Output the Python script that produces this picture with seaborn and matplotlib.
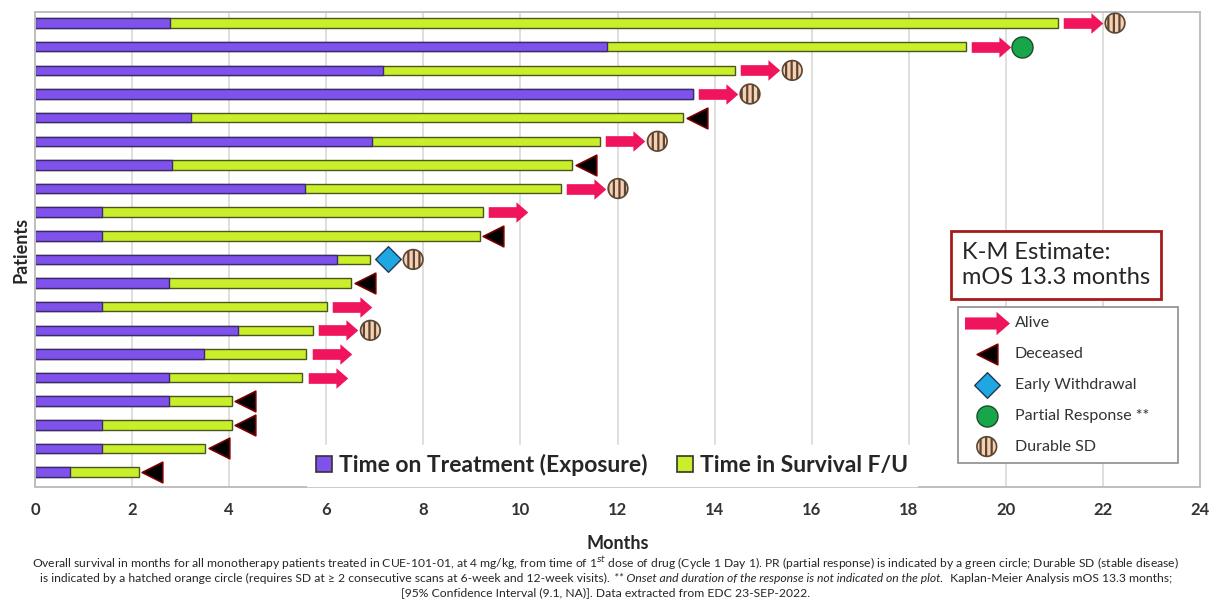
"""
Swimmer plot: overall survival for CUE-101-01 monotherapy patients.
"""

import numpy as np
import pandas as pd
import matplotlib
matplotlib.use("Agg")
import matplotlib.pyplot as plt
import seaborn as sns
from matplotlib.path import Path
from matplotlib.patches import Patch
from matplotlib.offsetbox import TextArea, HPacker, AnchoredOffsetbox

# Data (months)

patients = [f"P{i:02d}" for i in range(1, 21)]
exposure = [2.79, 11.78, 7.17, 13.55, 3.22, 6.94, 2.83, 5.56, 1.39, 1.39,
            6.23, 2.77, 1.39, 4.19, 3.48, 2.77, 2.77, 1.39, 1.39, 0.72]
total    = [21.07, 19.17, 14.42, 13.55, 13.35, 11.64, 11.07, 10.83, 9.23, 9.16,
            6.91, 6.51, 6.01, 5.73, 5.59, 5.51, 4.05, 4.05, 3.51, 2.14]
status   = ["Alive", "Alive", "Alive", "Alive", "Deceased", "Alive", "Deceased",
            "Alive", "Alive", "Deceased", "Withdrawal", "Deceased", "Alive",
            "Alive", "Alive", "Alive", "Deceased", "Deceased", "Deceased",
            "Deceased"]
response = ["SD", "PR", "SD", "SD", "", "SD", "", "SD", "", "",
            "SD", "", "", "SD", "", "", "", "", "", ""]
x_ticks  = list(range(0, 25, 2))

# Styling

PURPLE = "#8052EC"
GREEN  = "#C9EF2B"
PINK   = "#F0145C"
BLUE   = "#1EA7E1"
PR_GREEN = "#17A74A"
SD_FILL  = "#F7CFB2"
GRID   = "#D9D9D9"
FRAME  = "#BFBFBF"
TEXT   = "#262626"

sns.set_theme(style="white")
plt.rcParams["font.family"] = ["Lato", "DejaVu Sans"]
plt.rcParams["mathtext.fontset"] = "custom"
plt.rcParams["mathtext.rm"] = "Lato"
plt.rcParams["hatch.color"] = "#E5772B"
plt.rcParams["hatch.linewidth"] = 1.6

# block-arrow marker, centred on the origin
ARROW = Path([(-1, -0.27), (0.4, -0.27), (0.4, -0.52), (1, 0),
              (0.4, 0.52), (0.4, 0.27), (-1, 0.27), (-1, -0.27)],
             [Path.MOVETO] + [Path.LINETO] * 6 + [Path.CLOSEPOLY])

df = pd.DataFrame({"patient": patients, "exposure": exposure, "total": total,
                   "status": status, "response": response})
df["row"] = np.arange(len(df))

fig = plt.figure(figsize=(12.12, 6.01), dpi=100)
ax = fig.add_axes([35 / 1212, 1 - 487 / 601, 1165 / 1212, 475 / 601])

# stacked bars: survival follow-up underneath, exposure on top
sns.barplot(data=df, x="total", y="patient", orient="h", color=GREEN,
            saturation=1, width=0.4, edgecolor="#4A5520", linewidth=1, ax=ax)
sns.barplot(data=df, x="exposure", y="patient", orient="h", color=PURPLE,
            saturation=1, width=0.4, edgecolor="#3A2A70", linewidth=1, ax=ax)

# event markers, offset from the end of each bar
alive = df[df.status == "Alive"]
dead = df[df.status == "Deceased"]
wd = df[df.status == "Withdrawal"]
sd = df[df.response == "SD"]
pr = df[df.response == "PR"]
sd_off = np.where(sd.status == "Withdrawal", 0.88, 1.18)

ax.scatter(alive.total + 0.52, alive.row, marker=ARROW, s=810, color=PINK,
           linewidths=0, zorder=4)
ax.scatter(dead.total + 0.28, dead.row, marker="<", s=220, color="black",
           edgecolors="#7A0000", linewidths=1.2, zorder=4)
ax.scatter(wd.total + 0.36, wd.row, marker="D", s=170, color=BLUE,
           edgecolors="#1F3A55", linewidths=1, zorder=4)
ax.scatter(pr.total + 1.16, pr.row, marker="o", s=230, color=PR_GREEN,
           edgecolors="#1F4A2A", linewidths=1, zorder=4)
ax.scatter(sd.total + sd_off, sd.row, marker="o", s=200, facecolors=SD_FILL,
           edgecolors="#5A4632", linewidths=1.2, hatch="|||", zorder=4)

# axes
ax.set_xlim(0, 24)
ax.set_ylim(len(df) - 0.37, -0.47)
ax.set_xticks(x_ticks)
ax.set_yticks([])
ax.grid(axis="x", color=GRID, linewidth=1.2)
ax.set_axisbelow(True)
for sp in ax.spines.values():
    sp.set_color(FRAME)
    sp.set_linewidth(1.4)
ax.tick_params(axis="x", length=0, pad=11, labelsize=12, labelcolor="#333333")
for lbl in ax.get_xticklabels():
    lbl.set_fontweight("bold")
ax.set_xlabel("Months", fontsize=13, fontweight="bold", color=TEXT, labelpad=12)
ax.set_ylabel("Patients", fontsize=13, fontweight="bold", color=TEXT, labelpad=4)

# bottom legend (bar colours)
bar_handles = [Patch(facecolor=PURPLE, edgecolor="#333333", linewidth=1.2),
               Patch(facecolor=GREEN, edgecolor="#333333", linewidth=1.2)]
leg1 = ax.legend(bar_handles,
                 ["Time on Treatment (Exposure)", "Time in Survival F/U"],
                 loc="lower center", bbox_to_anchor=(612 / 1212, 1 - 497 / 601),
                 bbox_transform=fig.transFigure, ncol=2, frameon=True,
                 fancybox=False, framealpha=1, facecolor="white",
                 edgecolor="white", prop={"size": 16.5, "weight": "bold"},
                 handlelength=0.7, handleheight=0.7, handletextpad=0.3,
                 columnspacing=1.3, borderpad=0.4)
for t in leg1.get_texts():
    t.set_color(TEXT)
leg1.set_zorder(6)
ax.add_artist(leg1)

# event legend
ev_handles = [
    ax.scatter([], [], marker=ARROW, s=1050, color=PINK, linewidths=0),
    ax.scatter([], [], marker="<", s=220, color="black", edgecolors="#7A0000",
               linewidths=1.2),
    ax.scatter([], [], marker="D", s=170, color=BLUE, edgecolors="#1F3A55",
               linewidths=1),
    ax.scatter([], [], marker="o", s=230, color=PR_GREEN, edgecolors="#1F4A2A",
               linewidths=1),
    ax.scatter([], [], marker="o", s=200, facecolors=SD_FILL,
               edgecolors="#5A4632", linewidths=1.2, hatch="|||"),
]
leg_top = 1 - 307 / 601
leg2 = ax.legend(ev_handles, ["Alive", "Deceased", "Early Withdrawal",
                              "Partial Response **", "Durable SD"],
                 loc="upper left",
                 bbox_to_anchor=(958 / 1212, leg_top - 0.01, 220 / 1212, 0.01),
                 bbox_transform=fig.transFigure, mode="expand", frameon=True,
                 fancybox=False, framealpha=1, facecolor="white",
                 edgecolor="#8C8C8C", prop={"size": 11.5}, labelspacing=1.05,
                 handlelength=2.5, handletextpad=0.5, borderpad=0.55,
                 borderaxespad=0, scatterpoints=1)
leg2.get_frame().set_linewidth(1.2)
for t in leg2.get_texts():
    t.set_color("#333333")
leg2.set_zorder(6)

# K-M estimate box
fig.text(962 / 1212, 1 - 265 / 601, "K-M Estimate:\nmOS 13.3 months",
         fontsize=17, color=TEXT, ha="left", va="center", linespacing=1.25,
         bbox=dict(boxstyle="square,pad=0.45", facecolor="white",
                   edgecolor="#A61C1C", linewidth=2))

# caption
cap_size = 8.7
fig.text(0.5, 1 - 563 / 601,
         "Overall survival in months for all monotherapy patients treated in "
         "CUE-101-01, at 4 mg/kg, from time of 1$^{st}$ dose of drug (Cycle 1 "
         "Day 1). PR (partial response) is indicated by a green circle; "
         "Durable SD (stable disease)",
         fontsize=cap_size, color=TEXT, ha="center", va="center")
line2 = HPacker(children=[
    TextArea("is indicated by a hatched orange circle (requires SD at \u2265 2 "
             "consecutive scans at 6-week and 12-week visits).",
             textprops=dict(fontsize=cap_size, color=TEXT)),
    TextArea("** Onset and duration of the response is not indicated on the plot.",
             textprops=dict(fontsize=cap_size, color=TEXT, style="italic")),
    TextArea(" Kaplan-Meier Analysis mOS 13.3 months;",
             textprops=dict(fontsize=cap_size, color=TEXT)),
], align="baseline", pad=0, sep=3)
fig.add_artist(AnchoredOffsetbox(loc="center", child=line2, pad=0, borderpad=0,
                                 frameon=False,
                                 bbox_to_anchor=(0.5, 1 - 578 / 601),
                                 bbox_transform=fig.transFigure))
fig.text(0.5, 1 - 593 / 601,
         "[95% Confidence Interval (9.1, NA)]. Data extracted from EDC 23-SEP-2022.",
         fontsize=cap_size, color=TEXT, ha="center", va="center")

fig.savefig("out.png", dpi=100)
plt.close(fig)
